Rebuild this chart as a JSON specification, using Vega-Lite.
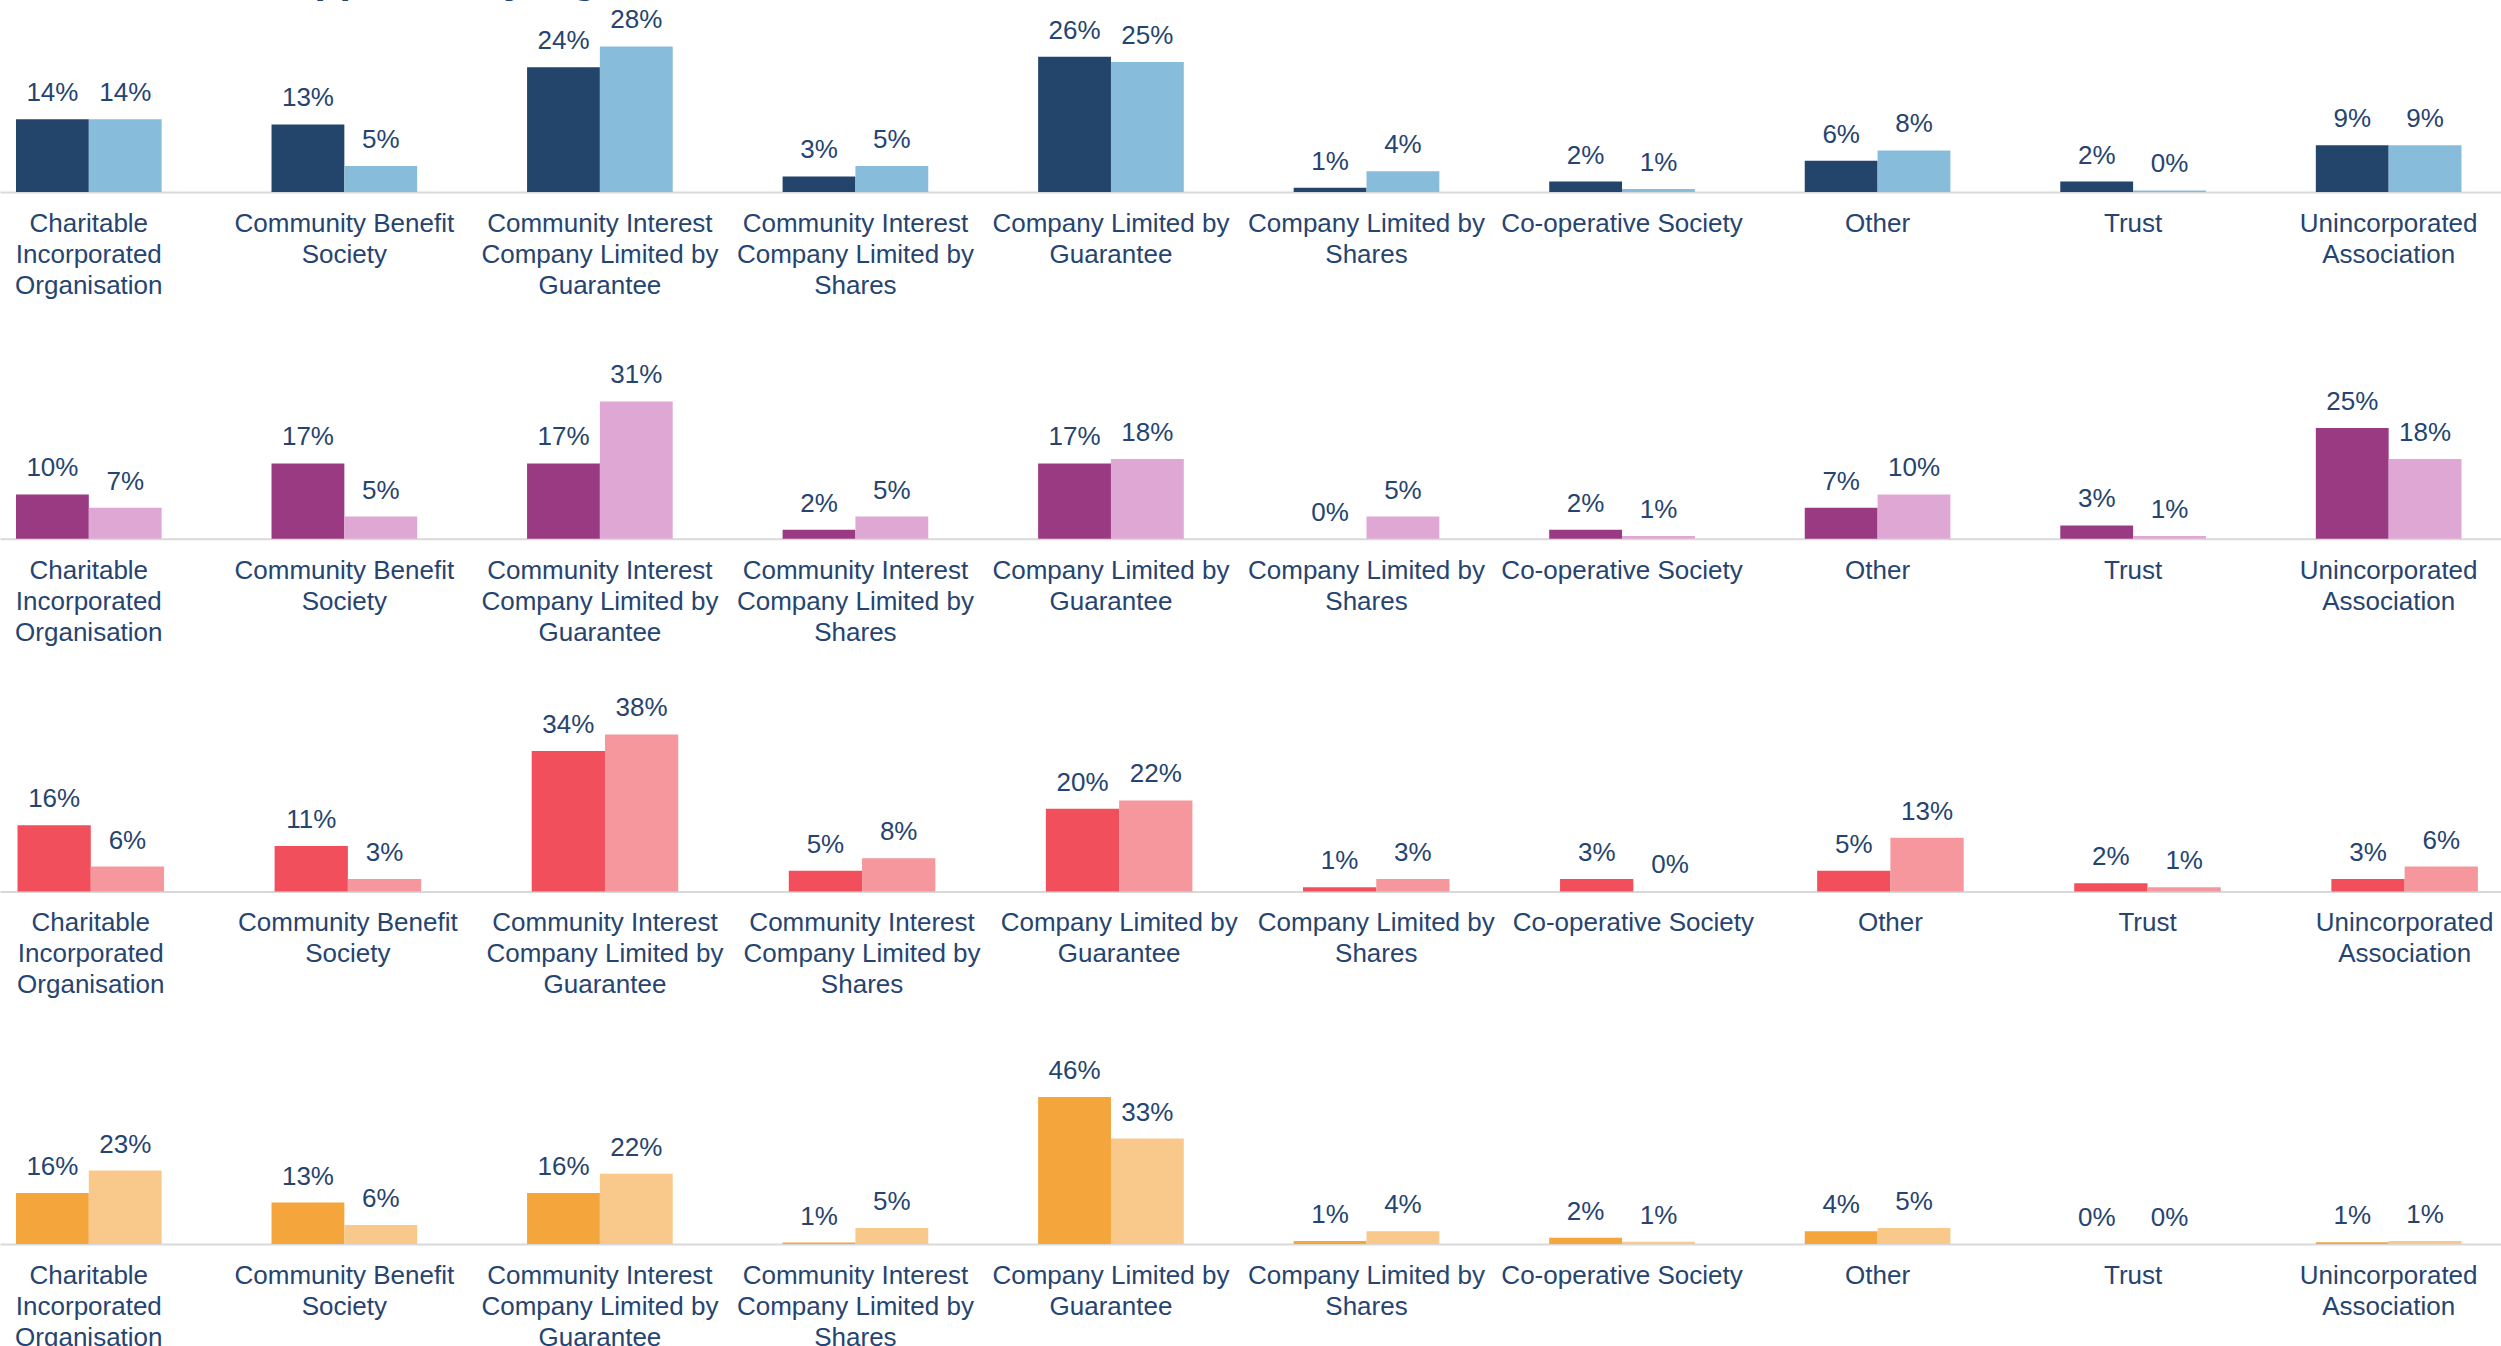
{
  "$schema": "https://vega.github.io/schema/vega-lite/v6.json",
  "autosize": {"type": "pad"},
  "padding": {"left": 0, "top": -40, "right": 0, "bottom": 0},
  "background": "white",
  "title": {"text": "Beneficiaries supported by legal form", "anchor": "start", "frame": "group", "fontSize": 41, "font": "Liberation Sans", "fontWeight": "bold", "color": "#264470", "offset": 5},
  "datasets": {
    "d": [
      {"row": 1, "cat": "Charitable|Incorporated|Organisation", "series": "A", "v": 0.14},
      {"row": 1, "cat": "Charitable|Incorporated|Organisation", "series": "B", "v": 0.14},
      {"row": 1, "cat": "Community Benefit|Society", "series": "A", "v": 0.13},
      {"row": 1, "cat": "Community Benefit|Society", "series": "B", "v": 0.05},
      {"row": 1, "cat": "Community Interest|Company Limited by|Guarantee", "series": "A", "v": 0.24},
      {"row": 1, "cat": "Community Interest|Company Limited by|Guarantee", "series": "B", "v": 0.28},
      {"row": 1, "cat": "Community Interest|Company Limited by|Shares", "series": "A", "v": 0.03},
      {"row": 1, "cat": "Community Interest|Company Limited by|Shares", "series": "B", "v": 0.05},
      {"row": 1, "cat": "Company Limited by|Guarantee", "series": "A", "v": 0.26},
      {"row": 1, "cat": "Company Limited by|Guarantee", "series": "B", "v": 0.25},
      {"row": 1, "cat": "Company Limited by|Shares", "series": "A", "v": 0.008},
      {"row": 1, "cat": "Company Limited by|Shares", "series": "B", "v": 0.04},
      {"row": 1, "cat": "Co-operative Society", "series": "A", "v": 0.02},
      {"row": 1, "cat": "Co-operative Society", "series": "B", "v": 0.006},
      {"row": 1, "cat": "Other", "series": "A", "v": 0.06},
      {"row": 1, "cat": "Other", "series": "B", "v": 0.08},
      {"row": 1, "cat": "Trust", "series": "A", "v": 0.02},
      {"row": 1, "cat": "Trust", "series": "B", "v": 0.003},
      {"row": 1, "cat": "Unincorporated|Association", "series": "A", "v": 0.09},
      {"row": 1, "cat": "Unincorporated|Association", "series": "B", "v": 0.09},

      {"row": 2, "cat": "Charitable|Incorporated|Organisation", "series": "A", "v": 0.10},
      {"row": 2, "cat": "Charitable|Incorporated|Organisation", "series": "B", "v": 0.07},
      {"row": 2, "cat": "Community Benefit|Society", "series": "A", "v": 0.17},
      {"row": 2, "cat": "Community Benefit|Society", "series": "B", "v": 0.05},
      {"row": 2, "cat": "Community Interest|Company Limited by|Guarantee", "series": "A", "v": 0.17},
      {"row": 2, "cat": "Community Interest|Company Limited by|Guarantee", "series": "B", "v": 0.31},
      {"row": 2, "cat": "Community Interest|Company Limited by|Shares", "series": "A", "v": 0.02},
      {"row": 2, "cat": "Community Interest|Company Limited by|Shares", "series": "B", "v": 0.05},
      {"row": 2, "cat": "Company Limited by|Guarantee", "series": "A", "v": 0.17},
      {"row": 2, "cat": "Company Limited by|Guarantee", "series": "B", "v": 0.18},
      {"row": 2, "cat": "Company Limited by|Shares", "series": "A", "v": 0.0},
      {"row": 2, "cat": "Company Limited by|Shares", "series": "B", "v": 0.05},
      {"row": 2, "cat": "Co-operative Society", "series": "A", "v": 0.02},
      {"row": 2, "cat": "Co-operative Society", "series": "B", "v": 0.006},
      {"row": 2, "cat": "Other", "series": "A", "v": 0.07},
      {"row": 2, "cat": "Other", "series": "B", "v": 0.10},
      {"row": 2, "cat": "Trust", "series": "A", "v": 0.03},
      {"row": 2, "cat": "Trust", "series": "B", "v": 0.006},
      {"row": 2, "cat": "Unincorporated|Association", "series": "A", "v": 0.25},
      {"row": 2, "cat": "Unincorporated|Association", "series": "B", "v": 0.18},

      {"row": 3, "cat": "Charitable|Incorporated|Organisation", "series": "A", "v": 0.16},
      {"row": 3, "cat": "Charitable|Incorporated|Organisation", "series": "B", "v": 0.06},
      {"row": 3, "cat": "Community Benefit|Society", "series": "A", "v": 0.11},
      {"row": 3, "cat": "Community Benefit|Society", "series": "B", "v": 0.03},
      {"row": 3, "cat": "Community Interest|Company Limited by|Guarantee", "series": "A", "v": 0.34},
      {"row": 3, "cat": "Community Interest|Company Limited by|Guarantee", "series": "B", "v": 0.38},
      {"row": 3, "cat": "Community Interest|Company Limited by|Shares", "series": "A", "v": 0.05},
      {"row": 3, "cat": "Community Interest|Company Limited by|Shares", "series": "B", "v": 0.08},
      {"row": 3, "cat": "Company Limited by|Guarantee", "series": "A", "v": 0.20},
      {"row": 3, "cat": "Company Limited by|Guarantee", "series": "B", "v": 0.22},
      {"row": 3, "cat": "Company Limited by|Shares", "series": "A", "v": 0.01},
      {"row": 3, "cat": "Company Limited by|Shares", "series": "B", "v": 0.03},
      {"row": 3, "cat": "Co-operative Society", "series": "A", "v": 0.03},
      {"row": 3, "cat": "Co-operative Society", "series": "B", "v": 0.0},
      {"row": 3, "cat": "Other", "series": "A", "v": 0.05},
      {"row": 3, "cat": "Other", "series": "B", "v": 0.13},
      {"row": 3, "cat": "Trust", "series": "A", "v": 0.02},
      {"row": 3, "cat": "Trust", "series": "B", "v": 0.01},
      {"row": 3, "cat": "Unincorporated|Association", "series": "A", "v": 0.03},
      {"row": 3, "cat": "Unincorporated|Association", "series": "B", "v": 0.06},

      {"row": 4, "cat": "Charitable|Incorporated|Organisation", "series": "A", "v": 0.16},
      {"row": 4, "cat": "Charitable|Incorporated|Organisation", "series": "B", "v": 0.23},
      {"row": 4, "cat": "Community Benefit|Society", "series": "A", "v": 0.13},
      {"row": 4, "cat": "Community Benefit|Society", "series": "B", "v": 0.06},
      {"row": 4, "cat": "Community Interest|Company Limited by|Guarantee", "series": "A", "v": 0.16},
      {"row": 4, "cat": "Community Interest|Company Limited by|Guarantee", "series": "B", "v": 0.22},
      {"row": 4, "cat": "Community Interest|Company Limited by|Shares", "series": "A", "v": 0.005},
      {"row": 4, "cat": "Community Interest|Company Limited by|Shares", "series": "B", "v": 0.05},
      {"row": 4, "cat": "Company Limited by|Guarantee", "series": "A", "v": 0.46},
      {"row": 4, "cat": "Company Limited by|Guarantee", "series": "B", "v": 0.33},
      {"row": 4, "cat": "Company Limited by|Shares", "series": "A", "v": 0.01},
      {"row": 4, "cat": "Company Limited by|Shares", "series": "B", "v": 0.04},
      {"row": 4, "cat": "Co-operative Society", "series": "A", "v": 0.02},
      {"row": 4, "cat": "Co-operative Society", "series": "B", "v": 0.007},
      {"row": 4, "cat": "Other", "series": "A", "v": 0.04},
      {"row": 4, "cat": "Other", "series": "B", "v": 0.05},
      {"row": 4, "cat": "Trust", "series": "A", "v": 0.0},
      {"row": 4, "cat": "Trust", "series": "B", "v": 0.0},
      {"row": 4, "cat": "Unincorporated|Association", "series": "A", "v": 0.006},
      {"row": 4, "cat": "Unincorporated|Association", "series": "B", "v": 0.01}
    ]
  },
  "data": {"name": "d"},
  "bounds": "flush",
  "spacing": 152.7,
  "resolve": {"scale": {"x": "independent", "y": "independent", "color": "independent", "xOffset": "independent"}, "axis": {"x": "independent"}},
  "vconcat": [
    {
      "width": 2501, "height": 170,
      "transform": [{"filter": "datum.row == 1"}],
      "encoding": {
        "x": {"field": "cat", "type": "nominal", "sort": null, "title": null, "scale": {"paddingInner": 0.43, "paddingOuter": 0.1086, "align": 0.288}},
        "xOffset": {"field": "series", "type": "nominal", "sort": null, "scale": {"paddingInner": 0, "paddingOuter": 0}},
        "y": {"field": "v", "type": "quantitative", "scale": {"domain": [0, 0.327], "nice": false}, "axis": null}
      },
      "layer": [
        {"mark": {"type": "bar"}, "encoding": {"color": {"field": "series", "type": "nominal", "scale": {"domain": ["A", "B"], "range": ["#23446b", "#87bcdb"]}, "legend": null}}},
        {"mark": {"type": "text", "baseline": "alphabetic", "dy": -18, "fontSize": 26, "font": "Liberation Sans", "color": "#264470"}, "encoding": {"text": {"field": "v", "type": "quantitative", "format": ".0%"}}}
      ]
    },
    {
      "width": 2501, "height": 194,
      "transform": [{"filter": "datum.row == 2"}],
      "encoding": {
        "x": {"field": "cat", "type": "nominal", "sort": null, "title": null, "scale": {"paddingInner": 0.43, "paddingOuter": 0.1086, "align": 0.288}},
        "xOffset": {"field": "series", "type": "nominal", "sort": null, "scale": {"paddingInner": 0, "paddingOuter": 0}},
        "y": {"field": "v", "type": "quantitative", "scale": {"domain": [0, 0.438], "nice": false}, "axis": null}
      },
      "layer": [
        {"mark": {"type": "bar"}, "encoding": {"color": {"field": "series", "type": "nominal", "scale": {"domain": ["A", "B"], "range": ["#9a3a83", "#dfa8d4"]}, "legend": null}}},
        {"mark": {"type": "text", "baseline": "alphabetic", "dy": -18, "fontSize": 26, "font": "Liberation Sans", "color": "#264470"}, "encoding": {"text": {"field": "v", "type": "quantitative", "format": ".0%"}}}
      ]
    },
    {
      "width": 2501, "height": 200,
      "transform": [{"filter": "datum.row == 3"}],
      "encoding": {
        "x": {"field": "cat", "type": "nominal", "sort": null, "title": null, "scale": {"paddingInner": 0.43, "paddingOuter": 0.079, "align": 0.431}},
        "xOffset": {"field": "series", "type": "nominal", "sort": null, "scale": {"paddingInner": 0, "paddingOuter": 0}},
        "y": {"field": "v", "type": "quantitative", "scale": {"domain": [0, 0.484], "nice": false}, "axis": null}
      },
      "layer": [
        {"mark": {"type": "bar"}, "encoding": {"color": {"field": "series", "type": "nominal", "scale": {"domain": ["A", "B"], "range": ["#f04f5b", "#f5979c"]}, "legend": null}}},
        {"mark": {"type": "text", "baseline": "alphabetic", "dy": -18, "fontSize": 26, "font": "Liberation Sans", "color": "#264470"}, "encoding": {"text": {"field": "v", "type": "quantitative", "format": ".0%"}}}
      ]
    },
    {
      "width": 2501, "height": 200,
      "transform": [{"filter": "datum.row == 4"}],
      "encoding": {
        "x": {"field": "cat", "type": "nominal", "sort": null, "title": null, "scale": {"paddingInner": 0.43, "paddingOuter": 0.1086, "align": 0.288}},
        "xOffset": {"field": "series", "type": "nominal", "sort": null, "scale": {"paddingInner": 0, "paddingOuter": 0}},
        "y": {"field": "v", "type": "quantitative", "scale": {"domain": [0, 0.625], "nice": false}, "axis": null}
      },
      "layer": [
        {"mark": {"type": "bar"}, "encoding": {"color": {"field": "series", "type": "nominal", "scale": {"domain": ["A", "B"], "range": ["#f4a53b", "#f8c98a"]}, "legend": null}}},
        {"mark": {"type": "text", "baseline": "alphabetic", "dy": -18, "fontSize": 26, "font": "Liberation Sans", "color": "#264470"}, "encoding": {"text": {"field": "v", "type": "quantitative", "format": ".0%"}}}
      ]
    }
  ],
  "config": {
    "view": {"stroke": null},
    "font": "Liberation Sans",
    "axis": {"grid": false},
    "axisX": {
      "labelAngle": 0, "ticks": false, "domainColor": "#d9d9d9", "domainWidth": 2,
      "labelFont": "Liberation Sans", "labelFontSize": 26, "labelColor": "#264470",
      "labelPadding": 18.5, "labelLineHeight": 31, "labelLimit": 0, "labelOverlap": false,
      "labelExpr": "split(datum.label, '|')"
    }
  }
}
